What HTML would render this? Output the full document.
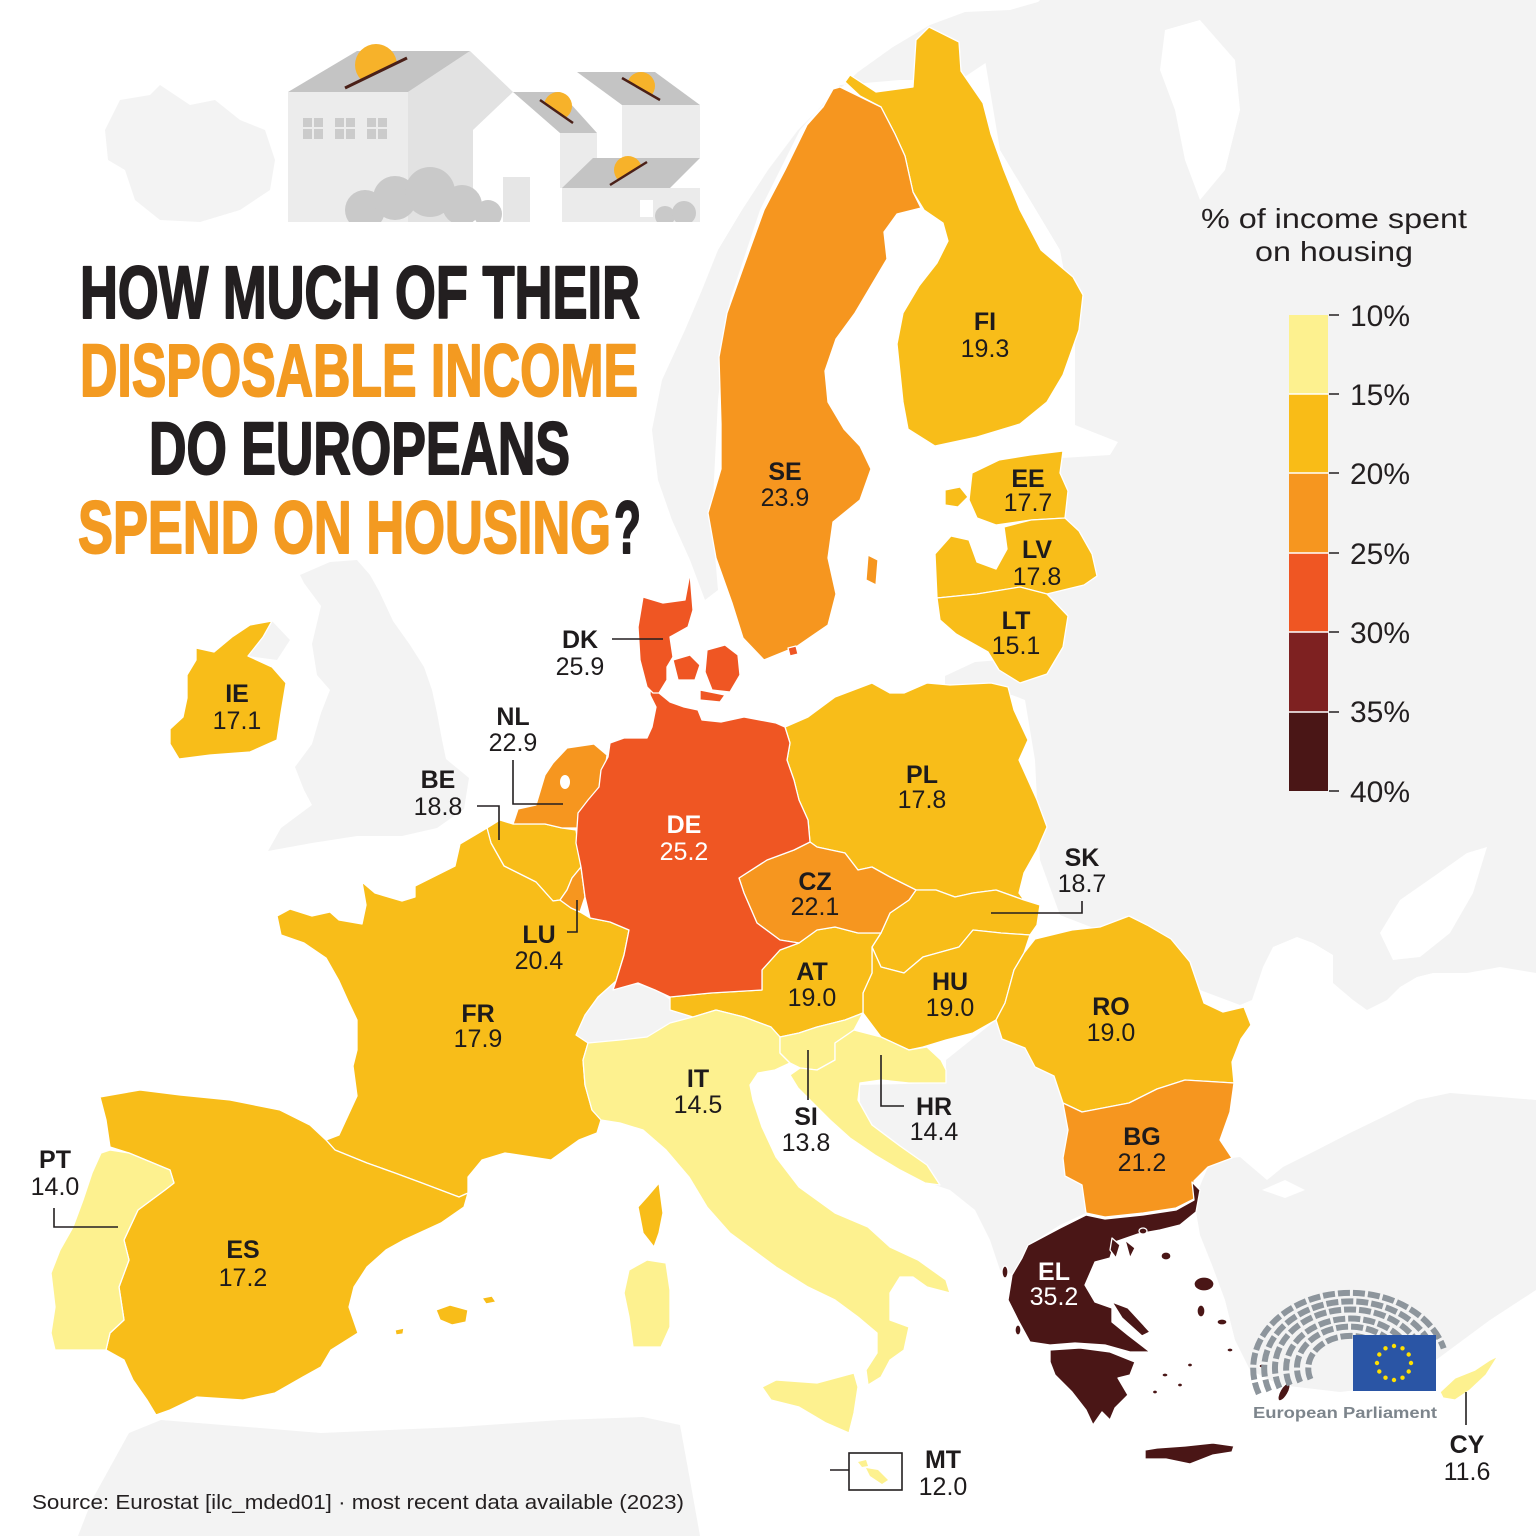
<!DOCTYPE html>
<html><head><meta charset="utf-8"><style>
html,body{margin:0;padding:0;background:#fff;}
svg{display:block;}
.c{font-family:"Liberation Sans",sans-serif;font-weight:bold;font-size:25px;fill:#1e1b1c;text-anchor:middle;}
.n{font-family:"Liberation Sans",sans-serif;font-size:25px;fill:#1e1b1c;text-anchor:middle;}
.w{fill:#fff;}
.ln{stroke:#231f20;stroke-width:1.6;fill:none;}
.eu{stroke:#fff;stroke-width:1.3;stroke-linejoin:round;}
</style></head><body>
<svg width="1536" height="1536" viewBox="0 0 1536 1536" xmlns="http://www.w3.org/2000/svg">
<rect width="1536" height="1536" fill="#fff"/>
<!-- non-EU land -->
<g fill="#f3f3f3">
<polygon points="105,130 120,100 150,95 160,85 190,105 215,100 240,120 265,130 275,160 270,190 240,210 200,222 160,220 135,200 125,170 108,160"/>
<polygon points="300,575 330,562 357,560 370,575 379,591 393,621 410,645 424,667 432,690 437,713 442,740 446,759 469,778 464,809 437,828 402,836 357,836 312,843 268,851 281,828 312,805 304,790 295,767 312,744 321,713 330,690 317,675 312,644 321,606 304,583"/>
<polygon points="250,625 272,621 290,640 277,660 248,656 263,637"/>
<polygon points="705,600 690,560 672,520 658,480 652,430 662,380 685,330 702,290 718,250 742,210 768,170 798,130 828,100 858,72 893,47 930,25 965,12 1010,10 1045,0 1060,0 1050,40 990,60 960,80 900,80 840,85 800,130 760,210 730,300 718,400 712,520 718,590"/>
<polygon points="1000,45 1040,0 1536,0 1536,973 1500,967 1467,973 1433,973 1417,977 1400,987 1387,1000 1367,1010 1353,1000 1333,983 1333,955 1313,943 1297,937 1273,947 1263,967 1252,1000 1240,1005 1200,990 1150,950 1060,915 1040,860 1035,760 1025,700 1012,695 945,697 945,676 975,662 1000,660 1030,640 1050,560 1045,480 1062,458 1110,455 1118,442 1075,425 1075,330 1060,250 1000,150 985,60"/>
<polygon points="860,1085 946,1083 946,1060 996,1020 1005,1003 1030,1040 1054,1076 1063,1103 1068,1130 1063,1158 1065,1176 1082,1185 1086,1213 1060,1225 1028,1245 1015,1275 1000,1270 990,1240 975,1210 950,1190 935,1185 900,1148 872,1127 860,1105"/>
<polygon points="576,1035 585,1015 598,997 616,981 640,985 660,992 670,1000 693,1017 670,1023 647,1037 620,1040 588,1043"/>
<polygon points="1200,1235 1194,1200 1208,1167 1232,1158 1240,1157 1267,1180 1283,1167 1317,1150 1350,1133 1383,1117 1417,1100 1450,1093 1500,1097 1536,1100 1536,1290 1490,1320 1440,1357 1400,1385 1340,1392 1280,1385 1250,1370 1235,1340 1225,1300 1212,1265"/>
<polygon points="78,1536 92,1500 129,1433 161,1420 321,1433 459,1427 560,1420 643,1417 680,1425 690,1480 700,1536"/>
</g>
<!-- inland seas -->
<g fill="#fff">
<polygon points="1165,30 1200,20 1235,60 1240,110 1225,170 1200,200 1185,160 1175,110 1160,70"/>
<polygon points="1380,933 1400,900 1433,877 1467,853 1487,847 1473,893 1450,933 1420,957 1393,960"/>
<polygon points="1262,1190 1285,1180 1305,1190 1285,1198"/>
</g>
<!-- EU countries -->
<g class="eu">
<g fill="#f8bd19">
<polygon points="929,27 959,42 961,71 983,103 991,134 1004,170 1020,210 1041,250 1073,277 1083,295 1079,330 1063,375 1047,402 1020,424 977,437 935,446 908,429 903,402 897,344 903,313 919,286 937,263 948,241 943,223 924,210 913,192 905,156 895,134 881,107 860,96 845,82 850,75 876,92 913,87 916,40"/>
<polygon points="972,473 999,460 1030,455 1063,451 1060,473 1068,491 1065,518 1031,520 996,525 977,518 969,500"/>
<polygon points="945,490 960,487 968,497 958,507 945,505"/>
<polygon points="935,554 951,536 969,540 977,562 996,569 1007,549 1004,527 1031,520 1065,518 1079,531 1092,554 1097,576 1084,585 1047,594 1020,587 977,594 937,598"/>
<polygon points="937,598 977,594 1020,587 1047,594 1068,616 1063,647 1047,674 1020,683 999,670 988,652 956,634 940,620"/>
<polygon points="196,648 214,652 232,637 250,625 272,621 263,637 248,656 272,667 286,683 281,713 277,740 250,752 210,755 179,759 170,744 170,729 183,717 187,698 187,675 196,660"/>
<polygon points="785,727 808,717 835,697 872,683 890,693 904,693 927,683 950,685 991,683 1008,687 1014,710 1028,740 1019,760 1037,800 1047,827 1037,850 1024,873 1019,893 1024,900 996,890 973,893 955,897 936,890 916,890 890,877 872,867 858,870 845,853 817,847 810,842 808,820 799,800 794,780 787,760 790,743"/>
<polygon points="916,890 936,890 955,897 973,893 996,890 1024,900 1040,905 1037,925 1030,935 1001,933 973,930 959,947 923,957 904,973 881,967 872,947 881,933 890,913 909,900"/>
<polygon points="872,947 881,967 904,973 923,957 959,947 973,930 1001,933 1030,935 1024,953 1014,970 1005,1003 996,1020 973,1033 946,1040 923,1047 909,1050 881,1037 863,1013 863,993 872,973"/>
<polygon points="1024,953 1035,939 1072,930 1100,927 1129,916 1147,925 1171,939 1190,962 1204,1003 1223,1012 1244,1007 1251,1025 1241,1039 1232,1062 1234,1083 1185,1080 1157,1089 1129,1103 1082,1112 1063,1103 1054,1076 1035,1067 1025,1048 1002,1039 996,1020 1005,1003 1014,970"/>
<polygon points="670,997 711,993 762,990 762,970 780,950 799,943 817,930 835,927 858,933 881,933 872,947 872,973 863,993 863,1013 845,1020 817,1027 799,1033 780,1037 771,1027 744,1017 716,1010 693,1017 670,1010"/>
<polygon points="487,828 500,820 513,824 545,824 562,828 576,830 578,843 581,867 572,878 567,890 560,900 553,901 536,882 504,866 491,843"/>
<polygon points="487,828 491,843 504,866 536,882 553,901 560,900 571,908 580,912 590,918 610,922 629,930 624,955 616,981 598,997 585,1015 576,1035 588,1043 583,1060 585,1085 592,1110 601,1120 597,1133 579,1140 551,1160 505,1153 482,1160 468,1177 468,1193 459,1197 422,1183 395,1173 367,1163 335,1150 326,1140 339,1135 357,1096 353,1066 357,1050 357,1020 348,1001 339,981 326,958 304,943 281,935 277,916 290,909 312,916 330,912 339,920 362,924 366,905 362,882 375,893 402,901 415,897 415,886 455,866 460,844"/>
<polygon points="647,1197 659,1183 663,1213 659,1233 654,1247 643,1233 638,1207"/>
<polygon points="100,1097 140,1090 180,1095 230,1100 280,1110 310,1125 326,1140 335,1150 367,1163 395,1173 422,1183 459,1197 468,1193 464,1207 441,1223 404,1240 386,1250 367,1267 354,1287 349,1307 358,1333 331,1350 321,1367 303,1377 275,1393 243,1400 197,1397 170,1410 156,1415 147,1400 133,1380 124,1360 106,1350 110,1333 124,1320 119,1287 129,1260 124,1240 138,1210 165,1190 174,1183 170,1170 129,1153 110,1147 106,1120"/>
<polygon points="436,1310 450,1305 468,1310 466,1322 452,1325 440,1320"/>
<polygon points="482,1298 492,1296 496,1302 486,1304"/>
<polygon points="395,1330 404,1328 403,1334 396,1335"/>
</g>
<g fill="#f6961f">
<polygon points="840,87 881,107 895,134 905,156 913,192 921,208 897,214 884,232 887,259 871,286 855,313 836,339 825,371 828,402 844,429 860,446 871,469 860,500 833,522 828,558 836,594 828,625 796,647 764,660 743,638 732,603 716,558 708,513 721,469 721,424 719,357 727,313 743,268 764,210 785,170 807,125 823,107 833,89"/>
<polygon points="868,555 878,560 876,585 866,580"/>
<polygon points="513,824 518,809 536,805 545,775 553,763 567,748 594,744 607,755 603,786 594,798 580,813 578,828 562,828 545,824"/>
<polygon points="739,878 767,860 794,850 810,842 817,847 845,853 858,870 872,867 890,877 916,890 909,900 890,913 881,933 858,933 835,927 817,930 799,943 780,940 757,923 744,893"/>
<polygon points="567,890 572,878 581,867 585,897 580,912 571,908 560,900"/>
<polygon points="1063,1103 1082,1112 1129,1103 1157,1089 1185,1080 1234,1083 1230,1112 1220,1140 1232,1158 1208,1167 1194,1181 1194,1199 1176,1208 1143,1213 1105,1217 1086,1213 1082,1185 1065,1176 1063,1158 1068,1130"/>
</g>
<g fill="#ef5623">
<polygon points="650,687 659,693 670,702 684,707 698,710 702,720 721,722 744,717 776,723 785,727 790,743 787,760 794,780 799,800 808,820 810,842 794,850 767,860 739,878 744,893 757,923 780,940 799,943 780,950 762,970 762,990 711,993 670,997 655,990 638,983 613,990 616,981 624,955 629,930 610,922 590,918 585,897 581,867 576,843 578,813 588,800 599,787 601,770 608,757 610,743 624,738 647,738 652,727 656,707 650,695"/>
<polygon points="690,573 685,600 663,603 643,597 638,627 640,660 647,687 653,693 659,693 667,680 667,667 673,657 670,637 688,627 693,610"/>
<polygon points="673,660 690,655 700,665 695,680 678,680"/>
<polygon points="707,650 725,645 738,655 740,675 730,692 712,690 705,672"/>
<polygon points="700,690 725,695 720,702 700,700"/>
<polygon points="788,648 796,646 798,654 790,656"/>
</g>
<g fill="#fdf18f">
<polygon points="101,1153 110,1150 129,1153 170,1170 174,1183 165,1190 138,1210 124,1240 129,1260 119,1287 124,1320 110,1333 106,1350 55,1350 51,1333 55,1307 51,1273 60,1250 73,1227 83,1200 92,1173"/>
<polygon points="588,1043 620,1040 647,1037 670,1023 693,1017 716,1010 744,1017 771,1027 780,1037 780,1053 790,1063 775,1070 758,1073 750,1085 753,1100 762,1127 776,1157 799,1187 835,1213 868,1227 890,1247 918,1260 946,1280 950,1293 927,1287 913,1277 900,1277 890,1293 890,1320 909,1327 904,1350 890,1360 881,1377 868,1385 866,1370 877,1353 877,1333 858,1317 835,1300 808,1287 776,1267 753,1250 730,1233 707,1207 689,1177 666,1150 643,1130 620,1123 601,1120 592,1110 585,1085 583,1060"/>
<polygon points="762,1387 776,1380 817,1383 854,1373 858,1387 854,1413 849,1433 826,1423 799,1407 771,1400"/>
<polygon points="629,1270 647,1260 666,1263 670,1290 670,1327 661,1347 633,1347 629,1317 624,1293"/>
<polygon points="780,1037 799,1033 817,1027 845,1020 863,1013 854,1030 835,1043 835,1060 817,1070 800,1068 790,1063 780,1053"/>
<polygon points="854,1030 881,1037 909,1050 927,1047 941,1060 946,1070 946,1083 909,1083 881,1080 860,1083 858,1100 872,1125 900,1146 927,1165 940,1185 925,1183 900,1170 875,1155 850,1138 830,1120 812,1102 798,1088 790,1075 800,1068 817,1070 835,1060 835,1043"/>
<polygon points="1440,1392 1455,1378 1475,1370 1490,1360 1498,1356 1486,1375 1470,1390 1455,1400 1443,1398"/>
</g>
<g fill="#4a1616">
<polygon points="1028,1245 1060,1228 1086,1215 1105,1219 1143,1215 1176,1210 1194,1200 1192,1182 1200,1190 1196,1212 1180,1225 1160,1230 1138,1234 1115,1242 1110,1258 1095,1262 1085,1285 1095,1302 1112,1308 1112,1322 1128,1335 1150,1352 1130,1352 1105,1345 1075,1343 1050,1345 1030,1342 1018,1320 1008,1300 1012,1275 1022,1258"/>
<polygon points="1050,1350 1080,1348 1110,1352 1135,1362 1130,1375 1118,1378 1128,1395 1115,1408 1110,1420 1102,1412 1093,1425 1086,1410 1072,1392 1055,1375 1050,1362"/>
<polygon points="1145,1450 1157,1448 1185,1446 1213,1443 1234,1446 1232,1452 1213,1455 1190,1464 1166,1459 1145,1459"/>
<polygon points="1112,1302 1128,1308 1150,1332 1142,1336 1122,1318"/>
<polygon points="1112,1238 1120,1245 1116,1258 1110,1250"/>
<polygon points="1125,1240 1135,1248 1130,1258"/>
<ellipse cx="1204" cy="1284" rx="10" ry="7"/>
<ellipse cx="1166" cy="1256" rx="5" ry="4"/>
<ellipse cx="1143" cy="1231" rx="4" ry="3"/>
<ellipse cx="1201" cy="1311" rx="4" ry="6"/>
<ellipse cx="1222" cy="1322" rx="5" ry="3"/>
<ellipse cx="1284" cy="1392" rx="4" ry="10" transform="rotate(30 1284 1392)"/>
<ellipse cx="1262" cy="1366" rx="3" ry="2"/>
<ellipse cx="1005" cy="1272" rx="3" ry="6"/>
<ellipse cx="1018" cy="1330" rx="3" ry="5"/>
<ellipse cx="1165" cy="1375" rx="3" ry="2"/>
<ellipse cx="1180" cy="1385" rx="2.5" ry="2"/>
<ellipse cx="1155" cy="1392" rx="2.5" ry="2"/>
<ellipse cx="1190" cy="1365" rx="2.5" ry="2"/>
<ellipse cx="1230" cy="1350" rx="3" ry="2"/>
</g>
</g>
<ellipse cx="565" cy="782" rx="5" ry="7" fill="#fff"/>
<!-- MT box -->
<rect x="849" y="1453" width="53" height="37" fill="#fff" stroke="#231f20" stroke-width="1.6"/>
<polygon points="858,1462 866,1460 868,1466 862,1467" fill="#fdf18f"/>
<polygon points="866,1468 878,1470 888,1480 882,1484 870,1476" fill="#fdf18f"/>
<!-- leader lines -->
<g class="ln">
<polyline points="612,639 663,639"/>
<polyline points="513,760 513,804 563,804"/>
<polyline points="477,806 499,806 499,840"/>
<polyline points="567,932 577,932 577,900"/>
<polyline points="991,913 1082,913 1082,901"/>
<polyline points="808,1050 808,1100"/>
<polyline points="881,1055 881,1106 904,1106"/>
<polyline points="54,1208 54,1227 118,1227"/>
<polyline points="830,1470 849,1470"/>
<polyline points="1466,1392 1466,1425"/>
</g>
<!-- country labels -->
<text class="c" x="985" y="330">FI</text><text class="n" x="985" y="357">19.3</text>
<text class="c" x="785" y="480">SE</text><text class="n" x="785" y="506">23.9</text>
<text class="c" x="1028" y="487">EE</text><text class="n" x="1028" y="511">17.7</text>
<text class="c" x="1037" y="558">LV</text><text class="n" x="1037" y="585">17.8</text>
<text class="c" x="1016" y="629">LT</text><text class="n" x="1016" y="654">15.1</text>
<text class="c" x="580" y="648">DK</text><text class="n" x="580" y="675">25.9</text>
<text class="c" x="237" y="702">IE</text><text class="n" x="237" y="729">17.1</text>
<text class="c" x="513" y="725">NL</text><text class="n" x="513" y="751">22.9</text>
<text class="c" x="438" y="788">BE</text><text class="n" x="438" y="815">18.8</text>
<text class="c w" x="684" y="833">DE</text><text class="n w" x="684" y="860">25.2</text>
<text class="c" x="922" y="783">PL</text><text class="n" x="922" y="808">17.8</text>
<text class="c" x="1082" y="866">SK</text><text class="n" x="1082" y="892">18.7</text>
<text class="c" x="815" y="890">CZ</text><text class="n" x="815" y="915">22.1</text>
<text class="c" x="539" y="943">LU</text><text class="n" x="539" y="969">20.4</text>
<text class="c" x="812" y="980">AT</text><text class="n" x="812" y="1006">19.0</text>
<text class="c" x="950" y="990">HU</text><text class="n" x="950" y="1016">19.0</text>
<text class="c" x="1111" y="1015">RO</text><text class="n" x="1111" y="1041">19.0</text>
<text class="c" x="478" y="1022">FR</text><text class="n" x="478" y="1047">17.9</text>
<text class="c" x="698" y="1087">IT</text><text class="n" x="698" y="1113">14.5</text>
<text class="c" x="806" y="1125">SI</text><text class="n" x="806" y="1151">13.8</text>
<text class="c" x="934" y="1115">HR</text><text class="n" x="934" y="1140">14.4</text>
<text class="c" x="1142" y="1145">BG</text><text class="n" x="1142" y="1171">21.2</text>
<text class="c" x="55" y="1168">PT</text><text class="n" x="55" y="1195">14.0</text>
<text class="c" x="243" y="1258">ES</text><text class="n" x="243" y="1286">17.2</text>
<text class="c w" x="1054" y="1280">EL</text><text class="n w" x="1054" y="1305">35.2</text>
<text class="c" x="943" y="1468">MT</text><text class="n" x="943" y="1495">12.0</text>
<text class="c" x="1467" y="1453">CY</text><text class="n" x="1467" y="1480">11.6</text>
<!-- legend -->
<g font-family="Liberation Sans, sans-serif" fill="#231f20">
<text x="1334" y="228" font-size="28" text-anchor="middle" textLength="266" lengthAdjust="spacingAndGlyphs">% of income spent</text>
<text x="1334" y="261" font-size="28" text-anchor="middle" textLength="158" lengthAdjust="spacingAndGlyphs">on housing</text>
</g>
<rect x="1289" y="315" width="39" height="79" fill="#fdf18f"/>
<rect x="1289" y="394" width="39" height="79" fill="#f9bc17"/>
<rect x="1289" y="473" width="39" height="80" fill="#f6961f"/>
<rect x="1289" y="553" width="39" height="79" fill="#ef5623"/>
<rect x="1289" y="632" width="39" height="80" fill="#7e2121"/>
<rect x="1289" y="712" width="39" height="79" fill="#4a1616"/>
<g stroke="#fff" stroke-width="1.5">
<line x1="1289" y1="394" x2="1328" y2="394"/><line x1="1289" y1="473" x2="1328" y2="473"/>
<line x1="1289" y1="553" x2="1328" y2="553"/><line x1="1289" y1="632" x2="1328" y2="632"/>
<line x1="1289" y1="712" x2="1328" y2="712"/>
</g>
<g stroke="#231f20" stroke-width="1.5">
<line x1="1329" y1="315" x2="1339" y2="315"/><line x1="1329" y1="394" x2="1339" y2="394"/>
<line x1="1329" y1="473" x2="1339" y2="473"/><line x1="1329" y1="553" x2="1339" y2="553"/>
<line x1="1329" y1="632" x2="1339" y2="632"/><line x1="1329" y1="712" x2="1339" y2="712"/>
<line x1="1329" y1="791" x2="1339" y2="791"/>
</g>
<g font-family="Liberation Sans, sans-serif" font-size="30" fill="#231f20">
<text x="1350" y="326">10%</text><text x="1350" y="405">15%</text><text x="1350" y="484">20%</text>
<text x="1350" y="564">25%</text><text x="1350" y="643">30%</text><text x="1350" y="722">35%</text>
<text x="1350" y="802">40%</text>
</g>
<!-- title -->
<g font-family="Liberation Sans, sans-serif" font-weight="bold" font-size="74" stroke-width="2" stroke-linejoin="round">
<text x="80" y="318" fill="#231f20" stroke="#231f20" textLength="560" lengthAdjust="spacingAndGlyphs">HOW MUCH OF THEIR</text>
<text x="80" y="396" fill="#f39a21" stroke="#f39a21" textLength="558" lengthAdjust="spacingAndGlyphs">DISPOSABLE INCOME</text>
<text x="149" y="474" fill="#231f20" stroke="#231f20" textLength="421" lengthAdjust="spacingAndGlyphs">DO EUROPEANS</text>
<text x="78" y="553" fill="#f39a21" stroke="#f39a21" textLength="533" lengthAdjust="spacingAndGlyphs">SPEND ON HOUSING</text>
<text x="614" y="553" fill="#231f20" stroke="#231f20" textLength="27" lengthAdjust="spacingAndGlyphs">?</text>
</g>
<!-- house illustration -->
<g>
<rect x="288" y="92" width="120" height="130" fill="#ececec"/>
<polygon points="408,92 470,51 513,92 513,222 408,222" fill="#e2e2e2"/>
<polygon points="288,92 357,51 470,51 408,92" fill="#c4c4c4"/>
<g fill="#cbcbcb">
<rect x="303" y="118" width="9" height="9"/><rect x="314" y="118" width="9" height="9"/><rect x="303" y="129" width="9" height="10"/><rect x="314" y="129" width="9" height="10"/>
<rect x="335" y="118" width="9" height="9"/><rect x="346" y="118" width="9" height="9"/><rect x="335" y="129" width="9" height="10"/><rect x="346" y="129" width="9" height="10"/>
<rect x="367" y="118" width="9" height="9"/><rect x="378" y="118" width="9" height="9"/><rect x="367" y="129" width="9" height="10"/><rect x="378" y="129" width="9" height="10"/>
</g>
<polygon points="473,130 513,92 560,130 560,222 473,222" fill="#ffffff"/>
<rect x="503" y="177" width="27" height="45" fill="#e6e6e6"/>
<polygon points="513,92 560,92 597,133 560,133" fill="#c4c4c4"/>
<rect x="560" y="133" width="37" height="55" fill="#ebebeb"/>
<rect x="622" y="105" width="78" height="53" fill="#ececec"/>
<polygon points="577,72 655,72 700,105 622,105" fill="#c4c4c4"/>
<rect x="562" y="188" width="98" height="34" fill="#ebebeb"/>
<polygon points="562,188 593,158 700,158 670,188" fill="#c4c4c4"/>
<rect x="660" y="188" width="40" height="34" fill="#ebebeb"/>
<rect x="640" y="200" width="13" height="17" fill="#fff"/>
<clipPath id="bc"><rect x="330" y="150" width="380" height="72"/></clipPath>
<g fill="#c9c9c9" clip-path="url(#bc)">
<circle cx="365" cy="210" r="20"/><circle cx="395" cy="198" r="22"/><circle cx="430" cy="192" r="25"/><circle cx="462" cy="205" r="20"/><circle cx="488" cy="214" r="14"/>
<circle cx="665" cy="216" r="10"/><circle cx="684" cy="213" r="12"/>
</g>
<clipPath id="k1"><polygon points="330,0 430,0 430,46 408,57 345,88 330,96"/></clipPath>
<circle cx="376" cy="65" r="21" fill="#f7b22a" clip-path="url(#k1)"/>
<line x1="345" y1="88" x2="407" y2="58" stroke="#4a2018" stroke-width="3"/>
<clipPath id="k2"><polygon points="530,70 600,70 600,130 573,123 540,100 530,95"/></clipPath>
<circle cx="558" cy="106" r="14" fill="#f7b22a" clip-path="url(#k2)"/>
<line x1="540" y1="100" x2="573" y2="123" stroke="#4a2018" stroke-width="2.5"/>
<clipPath id="k3"><polygon points="610,50 680,50 680,104 660,100 622,78 610,76"/></clipPath>
<circle cx="641" cy="86" r="14" fill="#f7b22a" clip-path="url(#k3)"/>
<line x1="622" y1="78" x2="660" y2="100" stroke="#4a2018" stroke-width="2.5"/>
<clipPath id="k4"><polygon points="600,130 670,130 670,160 647,162 610,185 600,186"/></clipPath>
<circle cx="628" cy="170" r="14" fill="#f7b22a" clip-path="url(#k4)"/>
<line x1="610" y1="185" x2="647" y2="162" stroke="#4a2018" stroke-width="2.5"/>
</g>
<!-- European Parliament logo -->
<g fill="none" stroke="#8d959c" stroke-width="6" stroke-dasharray="12 3">
<path d="M1310.5,1379.2 A42 32.8 0 1 1 1390.6,1359.5"/>
<path d="M1300.2,1382.1 A53 41.3 0 1 1 1401.2,1357.3"/>
<path d="M1289.8,1385.1 A64 49.9 0 1 1 1411.8,1355.1"/>
<path d="M1279.5,1388 A75 58.5 0 1 1 1422.4,1352.8"/>
<path d="M1269.2,1391 A86 67.1 0 1 1 1433.1,1350.6"/>
<path d="M1258.8,1393.9 A97 75.7 0 1 1 1443.7,1348.4"/>
</g>
<rect x="1353" y="1335" width="83" height="56" fill="#2a55a5"/>
<g fill="#ffe000">
<circle cx="1394" cy="1346" r="2.2"/><circle cx="1402.5" cy="1348.3" r="2.2"/><circle cx="1408.7" cy="1354.5" r="2.2"/>
<circle cx="1411" cy="1363" r="2.2"/><circle cx="1408.7" cy="1371.5" r="2.2"/><circle cx="1402.5" cy="1377.7" r="2.2"/>
<circle cx="1394" cy="1380" r="2.2"/><circle cx="1385.5" cy="1377.7" r="2.2"/><circle cx="1379.3" cy="1371.5" r="2.2"/>
<circle cx="1377" cy="1363" r="2.2"/><circle cx="1379.3" cy="1354.5" r="2.2"/><circle cx="1385.5" cy="1348.3" r="2.2"/>
</g>
<text x="1253" y="1418" font-family="Liberation Sans, sans-serif" font-weight="bold" font-size="16" fill="#7d858c" textLength="184" lengthAdjust="spacingAndGlyphs">European Parliament</text>
<!-- source -->
<text x="32" y="1509" font-family="Liberation Sans, sans-serif" font-size="20" fill="#231f20" textLength="652" lengthAdjust="spacingAndGlyphs">Source: Eurostat [ilc_mded01]  ·  most recent data available (2023)</text>
</svg>
</body></html>
